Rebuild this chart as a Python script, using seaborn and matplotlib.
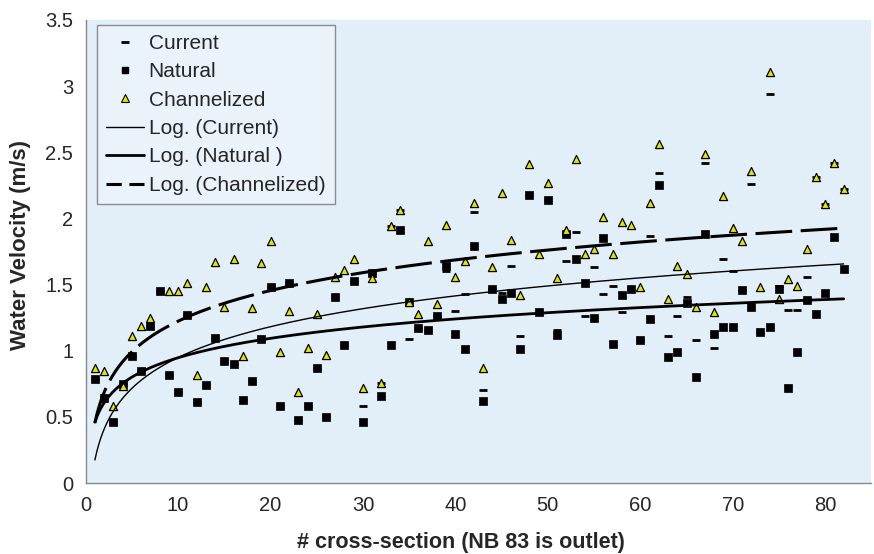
import numpy as np
import pandas as pd
import matplotlib
matplotlib.use("Agg")
import matplotlib.pyplot as plt
import seaborn as sns
from matplotlib.lines import Line2D
from matplotlib.ticker import FuncFormatter


# cross-sections 1..82 (NB 83 is the outlet)
section = list(range(1, 83))

natural = [0.79, 0.64, 0.46, 0.75, 0.96, 0.85, 1.19, 1.45, 0.82, 0.69,
           1.27, 0.61, 0.74, 1.10, 0.92, 0.90, 0.63, 0.77, 1.09, 1.48,
           0.58, 1.51, 0.48, 0.58, 0.87, 0.50, 1.41, 1.04, 1.53, 0.46,
           1.59, 0.66, 1.04, 1.91, 1.37, 1.17, 1.16, 1.26, 1.64, 1.13,
           1.01, 1.79, 0.62, 1.47, 1.39, 1.44, 1.01, 2.18, 1.29, 2.14,
           1.12, 1.88, 1.69, 1.51, 1.25, 1.85, 1.05, 1.42, 1.47, 1.08,
           1.24, 2.25, 0.95, 0.99, 1.36, 0.80, 1.88, 1.13, 1.18, 1.18,
           1.46, 1.33, 1.14, 1.18, 1.47, 0.72, 0.99, 1.38, 1.28, 1.44,
           1.86, 1.62]

# no triangle is visible at section 8
channelized = [0.87, 0.85, 0.58, 0.73, 1.11, 1.19, 1.25, None, 1.45, 1.45,
               1.51, 0.82, 1.48, 1.67, 1.33, 1.69, 0.96, 1.32, 1.66, 1.83,
               0.99, 1.30, 0.69, 1.02, 1.28, 0.97, 1.56, 1.61, 1.69, 0.72,
               1.55, 0.76, 1.94, 2.06, 1.37, 1.28, 1.83, 1.35, 1.95, 1.56,
               1.68, 2.12, 0.87, 1.63, 2.19, 1.84, 1.42, 2.41, 1.73, 2.27,
               1.55, 1.91, 2.45, 1.73, 1.77, 2.01, 1.73, 1.97, 1.95, 1.48,
               2.12, 2.56, 1.39, 1.64, 1.58, 1.33, 2.49, 1.29, 2.17, 1.93,
               1.83, 2.36, 1.48, 3.11, 1.39, 1.54, 1.49, 1.77, 2.31, 2.11,
               2.42, 2.22]

current = [0.79, 0.64, 0.46, 0.75, 0.96, 0.85, 1.19, 1.45, 0.82, 0.69,
           1.27, 0.61, 0.74, 1.10, 0.92, 0.90, 0.63, 0.77, 1.09, 1.48,
           0.58, 1.51, 0.48, 0.58, 0.87, 0.50, 1.41, 1.04, 1.53, 0.58,
           1.59, 0.76, 1.94, 2.06, 1.09, 1.17, 1.16, 1.26, 1.60, 1.30,
           1.43, 2.05, 0.70, 1.47, 1.44, 1.64, 1.11, 2.18, 1.29, 2.14,
           1.16, 1.68, 1.90, 1.26, 1.63, 1.43, 1.49, 1.29, 1.47, 1.08,
           1.87, 2.34, 1.11, 1.26, 1.41, 1.08, 2.42, 1.02, 1.69, 1.60,
           1.46, 2.26, 1.14, 2.94, 1.49, 1.31, 1.31, 1.56, 2.31, 2.11,
           2.42, 2.22]

df = pd.DataFrame({"section": section, "Current": current,
                   "Natural": natural, "Channelized": channelized},
                  dtype=float)

sns.set_style("white")
plt.rcParams["font.family"] = ["Liberation Sans", "DejaVu Sans"]

fig = plt.figure(figsize=(8.74, 5.54), dpi=100)
ax = fig.add_axes([0.098, 0.128, 0.899, 0.836])
ax.set_facecolor("#e2eef8")

yellow = "#e3e30c"

# points
sns.scatterplot(data=df, x="section", y="Current", marker="_", s=30,
                color="black", linewidth=2, ax=ax, zorder=3)
sns.scatterplot(data=df, x="section", y="Natural", marker="s", s=36,
                color="black", edgecolor="black", linewidth=0.5, ax=ax, zorder=4)
sns.scatterplot(data=df, x="section", y="Channelized", marker="^", s=34,
                color=yellow, edgecolor="black", linewidth=0.9, ax=ax, zorder=5)

# logarithmic trendlines (least squares on ln x)
xs = np.linspace(1, 82, 400)
styles = {"Current": dict(lw=1.0, ls="-"),
          "Natural": dict(lw=2.0, ls="-"),
          "Channelized": dict(lw=2.2, ls=(0, (12, 2.8)))}
for name, st in styles.items():
    d = df[["section", name]].dropna()
    a, b = np.polyfit(np.log(d["section"]), d[name], 1)
    ax.plot(xs, a * np.log(xs) + b, color="black", lw=st["lw"],
            ls=st["ls"], zorder=6)

ax.set_xlim(0, 85)
ax.set_ylim(0, 3.5)
ax.set_xticks(range(0, 81, 10))
ax.set_yticks(np.arange(0, 3.51, 0.5))
ax.yaxis.set_major_formatter(FuncFormatter(lambda v, p: f"{v:g}"))
ax.tick_params(direction="out", length=5, width=1, color="#888888",
               labelsize=14.5, pad=4)
for side in ["top", "right"]:
    ax.spines[side].set_visible(False)
for side in ["left", "bottom"]:
    ax.spines[side].set_color("#888888")
    ax.spines[side].set_linewidth(1)

ax.set_xlabel("# cross-section (NB 83 is outlet)", fontsize=15.5,
              fontweight="bold")
ax.set_ylabel("Water Velocity (m/s)", fontsize=16, fontweight="bold")
ax.xaxis.set_label_coords(0.478, -0.105)
ax.yaxis.set_label_coords(-0.069, 0.515)

handles = [
    Line2D([], [], ls="none", marker="_", ms=6, mew=2, color="black"),
    Line2D([], [], ls="none", marker="s", ms=5, color="black"),
    Line2D([], [], ls="none", marker="^", ms=6, mfc=yellow, mec="black", mew=0.8),
    Line2D([], [], color="black", lw=1.0),
    Line2D([], [], color="black", lw=2.0),
    Line2D([], [], color="black", lw=2.2, ls=(0, (5, 2.5))),
]
labels = ["Current", "Natural", "Channelized", "Log. (Current)",
          "Log. (Natural )", "Log. (Channelized)"]
leg = ax.legend(handles, labels, loc="upper left",
                bbox_to_anchor=(0.014, 0.99), borderaxespad=0,
                fontsize=15, frameon=True, fancybox=False, framealpha=1,
                handlelength=1.8, handletextpad=0.25, labelspacing=0.45,
                borderpad=0.45)
leg.get_frame().set_facecolor("#eaf2fa")
leg.get_frame().set_edgecolor("#8c8c8c")
leg.get_frame().set_linewidth(1)

fig.savefig("out.png", dpi=100)
